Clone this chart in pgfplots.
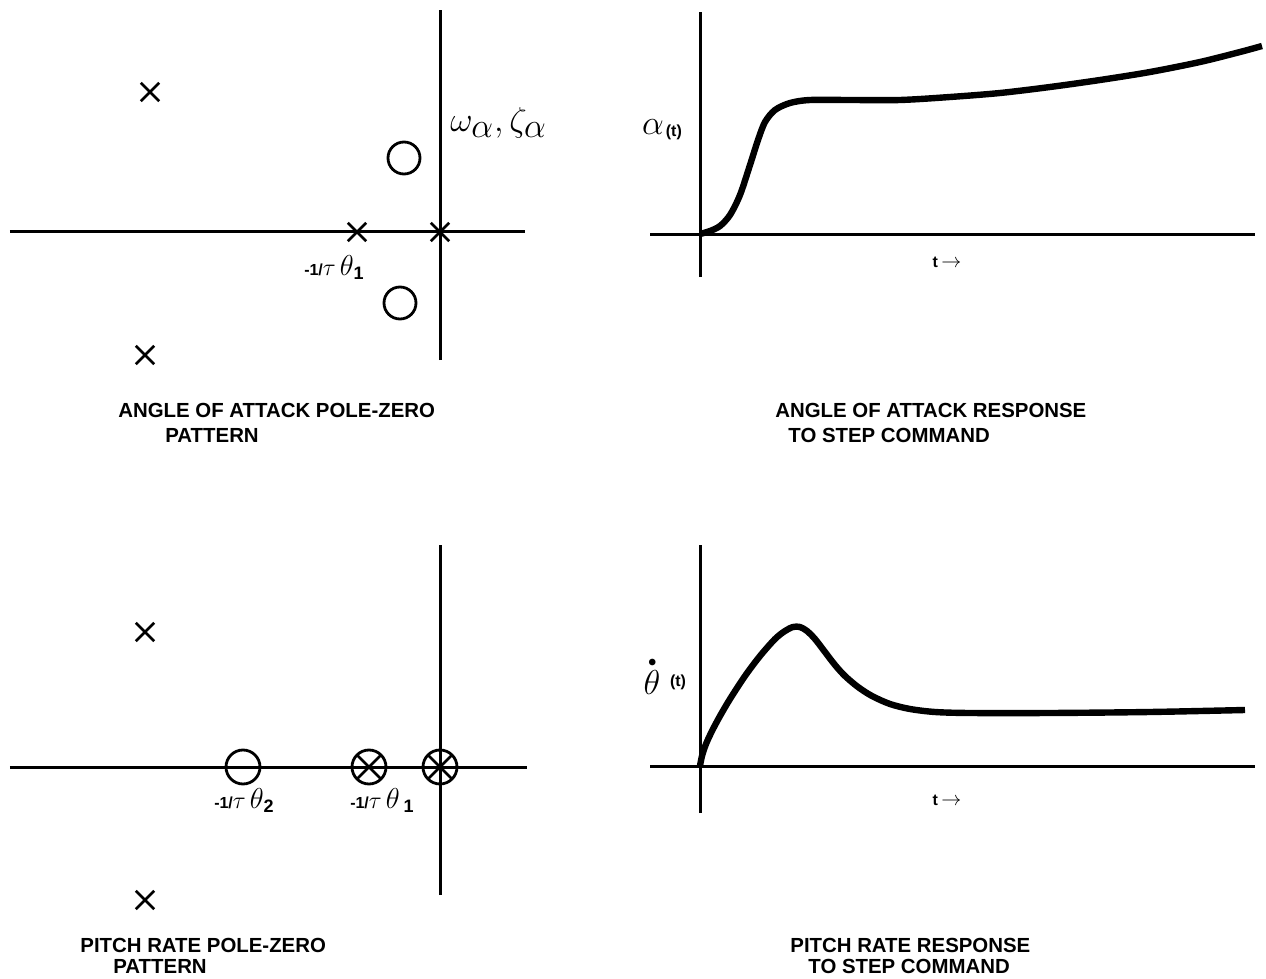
\documentclass[border=0pt]{standalone}
\usepackage{pgfplots}
\pgfplotsset{compat=1.18}
\usetikzlibrary{plotmarks}
\usepackage{fontspec}
\setmainfont{Liberation Sans}
\newcommand\ttl[1]{{\bfseries\fontsize{10.2}{10}\selectfont #1}}
\newcommand\sm[1]{{\bfseries\fontsize{8}{8}\selectfont #1}}
\pgfplotsset{pz/.style={x=0.5pt,y=0.5pt,axis lines=middle,ticks=none,
  axis line style={-,line width=1.5pt},
  every inner x axis line/.append style={-},
  every inner y axis line/.append style={-},
  clip=false,anchor=origin,enlargelimits=false}}
\begin{document}
\begin{tikzpicture}
\path[use as bounding box] (0,0) rectangle (633pt,-489.5pt);
% top-left
\begin{axis}[pz,at={(220pt,-116pt)},xmin=-430,xmax=85,ymin=-128,ymax=222]
\addplot[only marks,mark=x,mark size=6.5pt,line width=1.3pt] coordinates {(-290,140) (-295,-123) (-83,0) (0,0)};
\addplot[only marks,mark=o,mark size=8pt,line width=1.4pt] coordinates {(-36,74) (-40,-71)};
\node[anchor=base west,inner sep=0] at (axis cs:10,100) {\fontsize{17}{17}\selectfont$\omega_{\textstyle\alpha}{,}\,\zeta_{\textstyle\alpha}$};
\node[inner sep=0] at (axis cs:-106,-36) {\sm{-1/}\fontsize{12}{12}\selectfont$\tau$\,{\fontsize{14}{14}\selectfont$\theta$}\raisebox{-2pt}{\sm{\fontsize{9}{9}\selectfont 1}}};
\end{axis}
% top-right
\begin{axis}[pz,at={(350pt,-117pt)},xmin=-50,xmax=555,ymin=-43,ymax=222]
\addplot[line width=3.2pt,smooth] coordinates {(0,0) (10,3) (20,8) (30,19) (40,39) (50,69) (58,94) (65,112) (75,124) (90,131) (110,134) (150,134) (200,134) (250,137) (300,141) (350,147) (400,154) (450,162) (500,172) (540,182) (562,188)};
\node[inner sep=0] at (axis cs:-38,104) {\fontsize{19}{19}\selectfont$\alpha$\kern1pt\raisebox{-1pt}{\sm{(t)}}};
\node[inner sep=0] at (axis cs:247,-28) {\sm{t}\,$\rightarrow$};
\end{axis}
% bottom-left
\begin{axis}[pz,at={(220pt,-383.5pt)},xmin=-430,xmax=87,ymin=-128,ymax=222]
\addplot[only marks,mark=x,mark size=6.5pt,line width=1.3pt] coordinates {(-295,135) (-295,-133)};
\addplot[only marks,mark=o,mark size=8.5pt,line width=1.4pt] coordinates {(-197,0)};
\addplot[only marks,mark=otimes,mark size=8.5pt,line width=1.4pt] coordinates {(-71,0) (0,0)};
\node[inner sep=0] at (axis cs:-196,-33) {\sm{-1/}\fontsize{12}{12}\selectfont$\tau$\,{\fontsize{15}{15}\selectfont$\theta$}\raisebox{-2pt}{\sm{\fontsize{9}{9}\selectfont 2}}};
\node[inner sep=0] at (axis cs:-58,-33) {\sm{-1/}\fontsize{12}{12}\selectfont$\tau$\,{\fontsize{15}{15}\selectfont$\theta$}\,\raisebox{-2pt}{\sm{\fontsize{9}{9}\selectfont 1}}};
\end{axis}
% bottom-right
\begin{axis}[pz,at={(350pt,-383pt)},xmin=-50,xmax=555,ymin=-47,ymax=221]
\addplot[line width=3.2pt,smooth] coordinates {(0,0) (2,10) (6,22) (12,35) (20,50) (30,67) (45,90) (60,110) (75,127) (85,135) (93,139) (100,139) (107,135) (115,127) (125,114) (135,101) (145,90) (158,79) (172,70) (190,62) (210,57) (235,54) (270,53) (350,53) (450,54) (545,56)};
\node[inner sep=0] at (axis cs:-48,90) {\fontsize{17}{17}\selectfont$\stackrel{\scriptscriptstyle\bullet}{\theta}$};
\node[inner sep=0] at (axis cs:-22,84) {\sm{(t)}};
\node[inner sep=0] at (axis cs:247,-34) {\sm{t}\,$\rightarrow$};
\end{axis}
% titles
\node[anchor=base west,inner sep=0] at (59pt,-208.5pt) {\ttl{ANGLE OF ATTACK POLE-ZERO}};
\node[anchor=base west,inner sep=0] at (82.5pt,-221.5pt) {\ttl{PATTERN}};
\node[anchor=base west,inner sep=0] at (387.5pt,-208.5pt) {\ttl{ANGLE OF ATTACK RESPONSE}};
\node[anchor=base west,inner sep=0] at (394pt,-221.5pt) {\ttl{TO STEP COMMAND}};
\node[anchor=base west,inner sep=0] at (40pt,-476pt) {\ttl{PITCH RATE POLE-ZERO}};
\node[anchor=base west,inner sep=0] at (56.5pt,-486.5pt) {\ttl{PATTERN}};
\node[anchor=base west,inner sep=0] at (395pt,-476pt) {\ttl{PITCH RATE RESPONSE}};
\node[anchor=base west,inner sep=0] at (404pt,-486.5pt) {\ttl{TO STEP COMMAND}};
\end{tikzpicture}
\end{document}
